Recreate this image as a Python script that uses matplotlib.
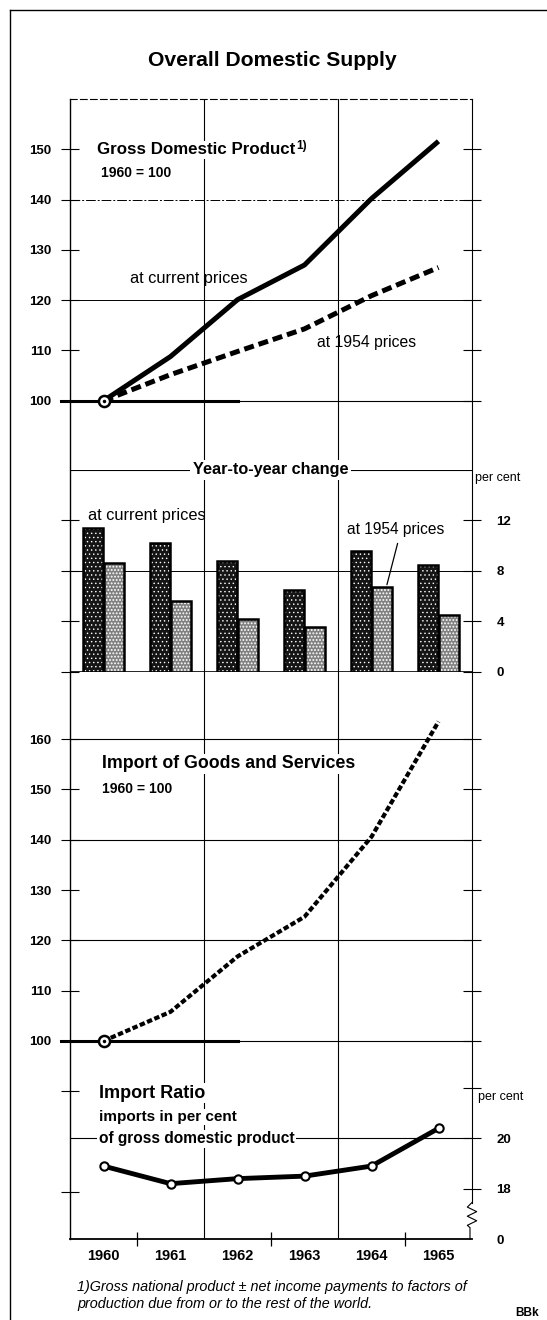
import matplotlib.pyplot as plt
import matplotlib.transforms as mtransforms

plt.rcParams['font.family'] = ['Liberation Sans', 'DejaVu Sans']
plt.rcParams['hatch.linewidth'] = 0.8

years = [1960, 1961, 1962, 1963, 1964, 1965]

# Gross domestic product, 1960 = 100
gdp_current = [100, 108.8, 120.1, 127.0, 140.2, 151.6]
gdp_1954 = [100, 105.2, 109.8, 114.3, 120.9, 126.5]

# year-to-year change, per cent
chg_current = [11.4, 10.2, 8.8, 6.5, 9.6, 8.5]
chg_1954 = [8.6, 5.6, 4.2, 3.6, 6.7, 4.5]

# imports of goods and services, 1960 = 100
imports = [100, 105.8, 116.8, 124.7, 140.6, 163.5]

# import ratio, per cent of GDP
import_ratio = [18.9, 18.2, 18.4, 18.5, 18.9, 20.4]

W, H = 547, 1320
fig = plt.figure(figsize=(W / 100, H / 100), dpi=100)
white_box = dict(facecolor='white', edgecolor='none', pad=1)


def panel(top, bottom):
    ax = fig.add_axes([70 / W, 1 - bottom / H, 402 / W, (bottom - top) / H])
    ax.set_xlim(1959.5, 1965.5)
    return ax


def data_panel(top, bottom, lo, hi):
    ax = panel(top, bottom)
    ax.patch.set_visible(False)
    for s in ax.spines.values():
        s.set_visible(False)
    ax.set_ylim(lo, hi)
    ax.set_xticks([])
    ax.tick_params(axis='y', direction='inout', length=13, width=0.8,
                   left=True, right=True, labelsize=9.5)
    return ax


# frame with year axis and vertical lines
frame = panel(99, 1239)
frame.set_ylim(0, 1)
frame.set_yticks([])
frame.set_xticks(years)
frame.set_xticklabels([str(y) for y in years], fontweight='bold')
frame.tick_params(axis='x', length=0, pad=7, labelsize=10.5)
frame.set_xticks([1960.5, 1962.5, 1964.5], minor=True)
frame.tick_params(axis='x', which='minor', direction='inout', length=10, width=0.9)
frame.spines['left'].set_linewidth(1.0)
frame.spines['bottom'].set_linewidth(1.3)
frame.spines['top'].set_linewidth(0.8)
frame.spines['top'].set_linestyle((0, (6, 3)))
frame.spines['right'].set_linewidth(0.8)
frame.spines['right'].set_bounds(0.032, 1)
for x in (1961.5, 1963.5):
    frame.axvline(x, color='black', lw=0.8)
# scale break on the right axis
zz_x = [1965.5, 1965.43, 1965.57, 1965.43, 1965.57, 1965.43, 1965.47, 1965.47]
zz_y = [0.032, 0.028, 0.024, 0.020, 0.016, 0.012, 0.010, 0.0]
frame.plot(zz_x, zz_y, color='black', lw=0.8, clip_on=False)

# --- Gross domestic product ---
ax1 = data_panel(99, 470, 160 - 371 / 5.03, 160)
ax1.set_yticks(range(100, 151, 10))
ax1.set_yticklabels([str(v) for v in range(100, 151, 10)], fontweight='bold')
ax1.tick_params(axis='y', labelleft=True, labelright=False, pad=7)
ax1.axhline(120, color='black', lw=0.7)
ax1.axhline(140, color='black', lw=0.7, linestyle=(0, (10, 2, 2, 2)))
ax1.axhline(100, color='black', lw=0.8)
ax1.plot([1959.37, 1962.0], [100, 100], color='black', lw=2.2, clip_on=False)
ax1.plot(years, gdp_current, color='black', lw=3.6, solid_capstyle='butt', zorder=4)
ax1.plot(years, gdp_1954, color='black', lw=3.6, linestyle=(0, (2, 1)),
         dash_capstyle='butt', zorder=4)
ax1.plot(years[0], gdp_current[0], 'o', ms=8, mfc='white', mec='black', mew=1.8, zorder=5)
ax1.plot(years[0], gdp_current[0], 'o', ms=1.5, color='black', zorder=6)
ax1.text(1959.90, 149.9, 'Gross Domestic Product', fontsize=12.2, fontweight='bold',
         va='center', bbox=white_box)
ax1.text(1962.87, 150.6, '1)', fontsize=8.5, fontweight='bold', va='center')
ax1.text(1959.96, 145.3, '1960 = 100', fontsize=10, fontweight='bold', va='center')
ax1.text(1960.40, 124.4, 'at current prices', fontsize=11.8, va='center')
ax1.text(1963.19, 111.5, 'at 1954 prices', fontsize=11.3, va='center')

# --- year-to-year change ---
ax2 = data_panel(470, 672, 0, 16)
ax2.set_yticks([0, 4, 8, 12])
ax2.set_yticklabels(['0', '4', '8', '12'], fontweight='bold')
ax2.tick_params(axis='y', labelleft=False, labelright=True, pad=11)
ax2.axhline(16, color='black', lw=0.8)
ax2.axhline(8, color='black', lw=0.7)
ax2.axhline(0, color='black', lw=1.2)
xc = [y - 0.15 for y in years]
xr = [y + 0.15 for y in years]
with plt.rc_context({'hatch.linewidth': 0.5}):
    ax2.bar(xc, chg_current, 0.3, color='#151515', edgecolor='white', hatch='....',
            lw=0, zorder=3)
with plt.rc_context({'hatch.linewidth': 0.9}):
    ax2.bar(xr, chg_1954, 0.3, color='#808080', edgecolor='white', hatch='.....',
            lw=0, zorder=3)
ax2.bar(xc, chg_current, 0.3, fill=False, edgecolor='black', lw=1.8, zorder=4)
ax2.bar(xr, chg_1954, 0.3, fill=False, edgecolor='black', lw=1.8, zorder=4)
ax2.text(1962.49, 16, 'Year-to-year change', fontsize=11.7, fontweight='bold',
         ha='center', va='center',
         bbox=dict(facecolor='white', edgecolor='none', pad=2))
rt = mtransforms.blended_transform_factory(ax2.transAxes, ax2.transData)
ax2.text(1.008, 15.35, 'per cent', transform=rt, fontsize=9, va='center', clip_on=False)
ax2.text(1959.77, 12.43, 'at current prices', fontsize=11.8, va='center')
ax2.text(1963.63, 11.32, 'at 1954 prices', fontsize=11.2, va='center')
ax2.annotate('', xy=(1964.22, chg_1954[4]), xytext=(1964.40, 10.4),
             arrowprops=dict(arrowstyle='-', color='black', lw=0.9))

# --- imports ---
ax3 = data_panel(672, 1239, 100 - 198 / 5.03, 100 + 369 / 5.03)
imp_ticks = [70, 90, 100, 110, 120, 130, 140, 150, 160]
ax3.set_yticks(imp_ticks)
ax3.set_yticklabels([str(v) if v >= 100 else '' for v in imp_ticks], fontweight='bold')
ax3.tick_params(axis='y', labelleft=True, labelright=False, pad=7)
for t in ax3.yaxis.get_major_ticks()[:2]:
    t.tick2line.set_visible(False)
for v in (160, 140, 120):
    ax3.axhline(v, color='black', lw=0.8)
ax3.axhline(100, color='black', lw=0.8)
ax3.plot([1959.37, 1962.0], [100, 100], color='black', lw=2.2, clip_on=False)
ax3.plot(years, imports, color='black', lw=3.0, linestyle=(0, (1.3, 0.6)),
         dash_capstyle='butt', zorder=4)
ax3.plot(years[0], imports[0], 'o', ms=8, mfc='white', mec='black', mew=1.8, zorder=5)
ax3.plot(years[0], imports[0], 'o', ms=1.5, color='black', zorder=6)
ax3.text(1959.98, 155.1, 'Import of Goods and Services', fontsize=12.8,
         fontweight='bold', va='center', bbox=white_box)
ax3.text(1959.98, 150.1, '1960 = 100', fontsize=10, fontweight='bold', va='center')

# --- import ratio ---
ax4 = data_panel(1041, 1239, 16, 16 + 198 / 25.15)
ax4.set_yticks([16, 18, 20, 22])
ax4.set_yticklabels(['0', '18', '20', ''], fontweight='bold')
ax4.tick_params(axis='y', left=False, labelleft=False, labelright=True, pad=11)
ax4.yaxis.get_major_ticks()[0].tick2line.set_visible(False)
ax4.axhline(20, color='black', lw=0.8)
ax4.plot(years, import_ratio, color='black', lw=3.5, marker='o', ms=6,
         mfc='white', mec='black', mew=1.5, zorder=4, clip_on=False)
ax4.text(1959.93, 21.8, 'Import Ratio', fontsize=13, fontweight='bold', va='center',
         bbox=white_box)
ax4.text(1959.93, 20.85, 'imports in per cent', fontsize=11, fontweight='bold',
         va='center', bbox=white_box)
ax4.text(1959.93, 19.98, 'of gross domestic product', fontsize=11.2, fontweight='bold',
         va='center', bbox=white_box)
rt4 = mtransforms.blended_transform_factory(ax4.transAxes, ax4.transData)
ax4.text(1.015, 21.65, 'per cent', transform=rt4, fontsize=9, va='center', clip_on=False)

# title, footnote, outer frame
fig.text(272 / W, 1 - 60 / H, 'Overall Domestic Supply', fontsize=15.2,
         fontweight='bold', ha='center', va='center')
fig.text(77 / W, 1 - 1287 / H,
         '1)Gross national product \u00b1 net income payments to factors of',
         fontsize=10.4, style='italic', va='center')
fig.text(77 / W, 1 - 1304 / H, 'production due from or to the rest of the world.',
         fontsize=10.4, style='italic', va='center')
fig.text(515 / W, 1 - 1313 / H, 'BBk', fontsize=8.5, fontweight='bold', va='center')
fig.add_artist(plt.Line2D([10 / W, 1], [1 - 10 / H, 1 - 10 / H], color='black', lw=1.0))
fig.add_artist(plt.Line2D([10 / W, 10 / W], [0, 1 - 10 / H], color='black', lw=1.0))

fig.savefig('out.png', dpi=100)
